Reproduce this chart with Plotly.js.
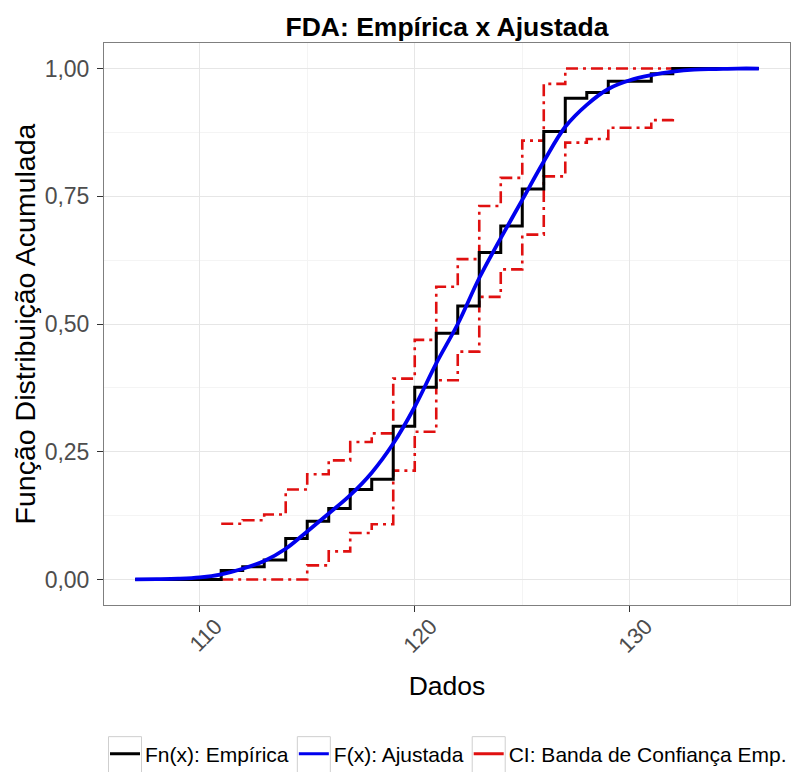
<!DOCTYPE html>
<html><head><meta charset="utf-8">
<script src="https://cdn.plot.ly/plotly-3.0.1.min.js"></script>
<style>html,body{margin:0;padding:0;background:#fff}#chart{width:798px;height:772px}</style>
</head><body><div id="chart"></div><script>
// x grid for empirical and fitted CDF
const xGrid = [107,108,109,110,111,112,113,114,115,116,117,118,119,120,121,122,123,124,125,126,127,128,129,130,131,132,133,134,135,136];
const fnEmpirica = [0,0,0,0,0.0176,0.025,0.038,0.080,0.114,0.139,0.176,0.196,0.300,0.376,0.482,0.535,0.640,0.692,0.764,0.877,0.942,0.953,0.975,0.975,0.990,1,1,1,1,1];
// F(x): fitted CDF
const fAjustada = [0,0.0005,0.0015,0.004,0.010,0.021,0.036,0.060,0.094,0.129,0.165,0.209,0.266,0.338,0.423,0.500,0.590,0.668,0.743,0.818,0.886,0.929,0.960,0.977,0.987,0.994,0.998,0.999,1,1];
// confidence band
const bandX = [111,112,113,114,115,116,117,118,119,120,121,122,123,124,125,126,127,128,129,130,131,132];
const bandLower = [0,0,0,0,0.0275,0.055,0.091,0.108,0.213,0.289,0.390,0.446,0.553,0.607,0.675,0.789,0.855,0.862,0.884,0.884,0.899,0.908];
const bandUpper = [0.109,0.116,0.127,0.176,0.206,0.233,0.269,0.286,0.393,0.469,0.573,0.627,0.731,0.786,0.859,0.970,1,1,1,1,1,1];
const xTicks = [110,120,130];
const yTicks = [0,0.25,0.5,0.75,1];
const legendNames = ['Fn(x): Empírica','F(x): Ajustada','CI: Banda de Confiança Emp.'];
const colors = {emp:'#000000', fit:'#0000ee', band:'#e01010'};
const redDash = '12px,5px,3px,5px';

const traces = [
  {x:bandX, y:bandLower, mode:'lines', line:{shape:'hv', color:colors.band, width:2.6, dash:redDash}, showlegend:false, hoverinfo:'skip'},
  {x:bandX, y:bandUpper, mode:'lines', line:{shape:'hv', color:colors.band, width:2.6, dash:redDash}, showlegend:false, hoverinfo:'skip'},
  {x:xGrid, y:fnEmpirica, mode:'lines', line:{shape:'hv', color:colors.emp, width:3}, showlegend:false},
  {x:xGrid, y:fAjustada, mode:'lines', line:{shape:'spline', smoothing:1, color:colors.fit, width:3.8}, showlegend:false},
  {x:[null], y:[null], mode:'lines', name:legendNames[0], line:{color:colors.emp, width:3}},
  {x:[null], y:[null], mode:'lines', name:legendNames[1], line:{color:colors.fit, width:3}},
  {x:[null], y:[null], mode:'lines', name:legendNames[2], line:{color:colors.band, width:3}}
];

const layout = {
  width:798, height:772,
  margin:{l:104, r:8, t:43, b:167, autoexpand:false},
  paper_bgcolor:'#ffffff', plot_bgcolor:'#ffffff',
  separators:',.',
  font:{family:'"Liberation Sans", Arial, sans-serif', color:'#000'},
  title:{text:'<b>FDA: Empírica x Ajustada</b>', font:{size:26.5, color:'#000'}, xref:'paper', x:0.5, xanchor:'center', yref:'container', y:1-27/772, yanchor:'middle'},
  xaxis:{range:[105.55,137.45], tickvals:xTicks, ticks:'outside', ticklen:6, tickcolor:'#333', tickangle:-45,
    tickfont:{size:22, color:'#4d4d4d'}, ticklabelshift:16, ticklabelstandoff:-7, showgrid:true, gridcolor:'#e6e6e6', gridwidth:1,
    minor:{tick0:105, dtick:5, showgrid:true, gridcolor:'#f4f4f4', ticks:''},
    showline:true, mirror:true, linecolor:'#7f7f7f', linewidth:1, zeroline:false, automargin:false,
    title:{text:'Dados', font:{size:26.5, color:'#000'}, standoff:19}},
  yaxis:{range:[-0.05,1.05], tickvals:yTicks, tickformat:'.2f', ticks:'outside', ticklen:6, tickcolor:'#333',
    tickfont:{size:23, color:'#4d4d4d'}, ticklabelstandoff:3, showgrid:true, gridcolor:'#e6e6e6', gridwidth:1,
    minor:{tick0:0, dtick:0.125, showgrid:true, gridcolor:'#f4f4f4', ticks:''},
    showline:true, mirror:true, linecolor:'#7f7f7f', linewidth:1, zeroline:false, automargin:false,
    title:{text:'Função Distribuição Acumulada', font:{size:28.5, color:'#000'}, standoff:0}},
  legend:{orientation:'h', xref:'container', x:105/798, xanchor:'left', yref:'container', y:1-754/772, yanchor:'middle',
    font:{size:21, color:'#000'}, bgcolor:'rgba(0,0,0,0)', borderwidth:0},
  showlegend:true
};
Plotly.newPlot('chart', traces, layout, {displayModeBar:false, staticPlot:true}).then(function(gd){
  // grey key boxes around the legend keys, as in the reference
  const sz = gd._fullLayout._size;
  const shapes = [];
  gd.querySelectorAll('.legend .traces').forEach(function(g){
    const p = g.querySelector('.legendlines path');
    if(!p) return;
    const r = p.getBoundingClientRect();
    const cx = (r.left + r.right)/2, cy = (r.top + r.bottom)/2;
    const x0 = cx - 16.5, x1 = cx + 16.5, y0 = cy - 17, y1 = cy + 22;
    shapes.push({type:'rect', xref:'paper', yref:'paper',
      x0:(x0 - sz.l)/sz.w, x1:(x1 - sz.l)/sz.w,
      y0:(sz.t + sz.h - y1)/sz.h, y1:(sz.t + sz.h - y0)/sz.h,
      line:{color:'#cfcfcf', width:1}, fillcolor:'rgba(0,0,0,0)', layer:'above'});
  });
  return Plotly.relayout(gd, {shapes: shapes});
});
</script></body></html>
